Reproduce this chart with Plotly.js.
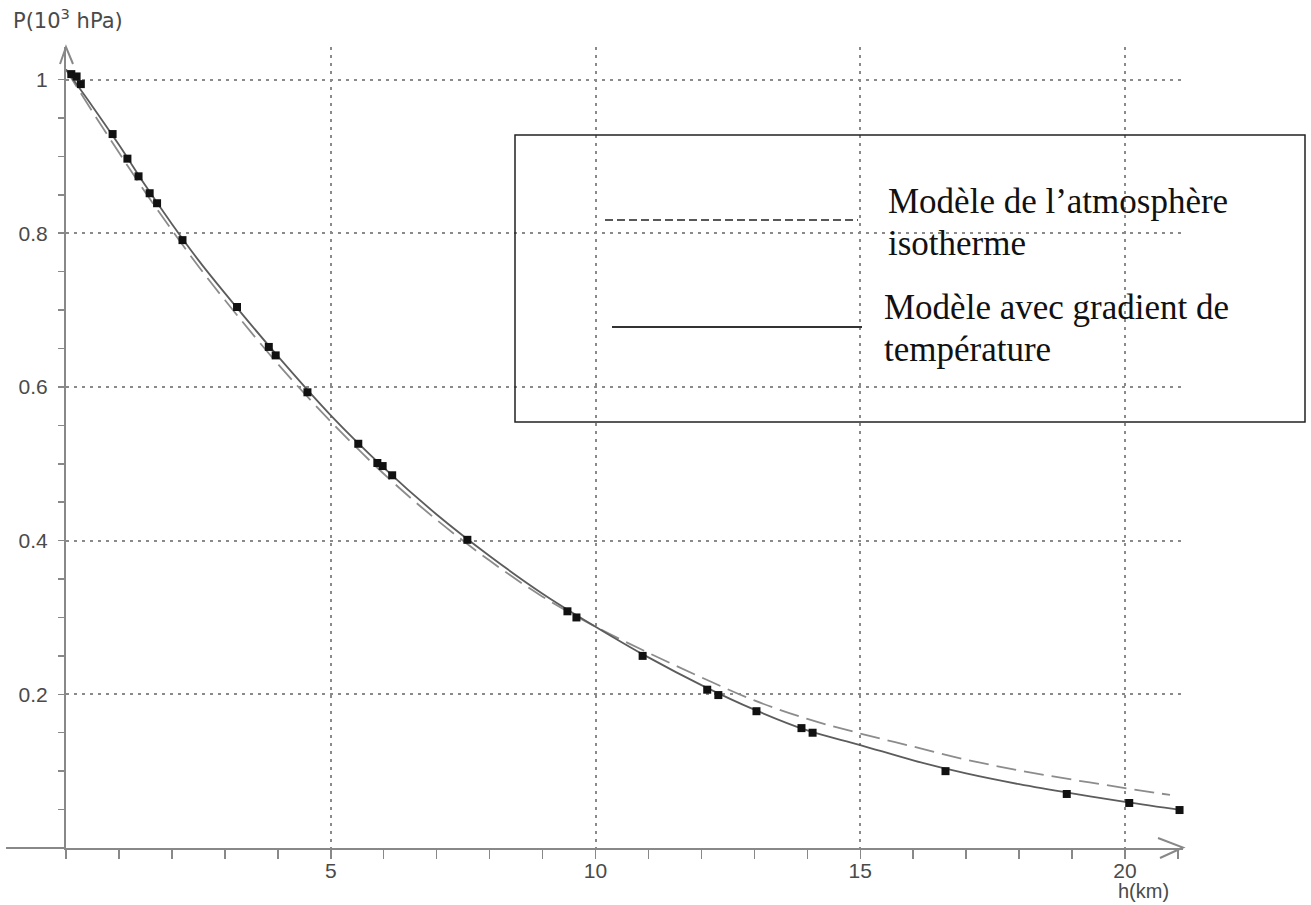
<!DOCTYPE html>
<html>
<head>
<meta charset="utf-8">
<script src="https://cdn.plot.ly/plotly-3.0.1.min.js"></script>
<style>
  html, body { margin: 0; padding: 0; background: #fff; }
  #chart { width: 1311px; height: 905px; }
</style>
</head>
<body>
<div id="chart"></div>
<script>
// ---- Data ----
// observed pressures (black squares)
const hObs = [0.1, 0.2, 0.28, 0.88, 1.16, 1.37, 1.58, 1.72, 2.2, 3.23, 3.83, 3.96, 4.56, 5.52, 5.88, 5.98, 6.16, 7.58, 9.47, 9.64, 10.89, 12.11, 12.32, 13.04, 13.89, 14.1, 16.61, 18.9, 20.08, 21.03];
const pObs = [1.007, 1.004, 0.994, 0.929, 0.897, 0.874, 0.852, 0.839, 0.791, 0.704, 0.652, 0.641, 0.593, 0.526, 0.501, 0.497, 0.485, 0.401, 0.308, 0.300, 0.250, 0.206, 0.199, 0.178, 0.156, 0.150, 0.100, 0.0703, 0.0586, 0.0494];

// solid curve: model with temperature gradient
const hGrad = [0, 0.5, 1, 1.5, 2, 2.5, 3, 4, 5, 6, 7, 8, 9, 10, 11, 12, 13, 14, 15, 16, 17, 18, 19, 20, 21.1];
const pGrad = [1.013, 0.965, 0.915, 0.862, 0.812, 0.765, 0.722, 0.640, 0.563, 0.495, 0.434, 0.380, 0.331, 0.288, 0.248, 0.212, 0.180, 0.153, 0.134, 0.114, 0.097, 0.083, 0.071, 0.060, 0.049];

// dashed curve: isothermal atmosphere model
const hIso = [0, 0.5, 1, 1.5, 2, 2.5, 3, 4, 5, 6, 7, 8, 9, 10, 11, 12, 13, 14, 15, 16, 17, 18, 19, 20, 20.85];
const pIso = [1.013, 0.958, 0.905, 0.853, 0.804, 0.757, 0.713, 0.630, 0.555, 0.487, 0.427, 0.374, 0.327, 0.288, 0.254, 0.222, 0.192, 0.168, 0.149, 0.132, 0.115, 0.101, 0.089, 0.078, 0.069];

// ticks
const xTickVals = [5, 10, 15, 20];
const xTickText = ['5', '10', '15', '20'];
const yTickVals = [0.2, 0.4, 0.6, 0.8, 1];
const yTickText = ['0.2', '0.4', '0.6', '0.8', '1'];

const legendIso = ['Modèle de l\u2019atmosphère', 'isotherme'];
const legendGrad = ['Modèle avec gradient de', 'température'];

// ---- Layout geometry (pixels) ----
const W = 1311, H = 905;
const L = 66, R = 128, T = 47, B = 57;
const plotW = W - L - R, plotH = H - T - B;
const pxPerKm = 52.95, pxPerUnit = 768.5;
const xMax = plotW / pxPerKm, yMax = plotH / pxPerUnit;
const px = v => (v - L) / plotW;            // page x -> paper
const py = v => (H - B - v) / plotH;        // page y -> paper

const axisCol = '#888';
const txtCol = '#4a4a4a';
const tickFont = { family: 'Liberation Sans, Arial, sans-serif', size: 21, color: txtCol };

const traces = [
  {
    x: hIso, y: pIso, mode: 'lines', type: 'scatter', line: { color: '#8c8c8c', width: 1.8, dash: '20px,8px', shape: 'spline' },
    hoverinfo: 'skip', showlegend: false
  },
  {
    x: hGrad, y: pGrad, mode: 'lines', type: 'scatter', line: { color: '#5c5c5c', width: 1.8, shape: 'spline' },
    hoverinfo: 'skip', showlegend: false
  },
  {
    x: hObs, y: pObs, mode: 'markers', type: 'scatter', cliponaxis: false,
    marker: { symbol: 'square', size: 8, color: '#111' }, showlegend: false
  }
];

const shapes = [
  // x axis extension to the left of the y axis
  { type: 'line', xref: 'paper', yref: 'paper', x0: px(6), x1: 0, y0: 0, y1: 0, line: { color: axisCol, width: 2 } },
  // x axis arrow head
  { type: 'path', xref: 'paper', yref: 'paper', path: `M ${px(1158)} ${py(838)} L ${px(1183)} ${py(847.5)} L ${px(1160)} ${py(858)}`, line: { color: axisCol, width: 2 } },
  // y axis arrow head
  { type: 'path', xref: 'paper', yref: 'paper', path: `M ${px(60)} ${py(64)} L ${px(66)} ${py(47)} L ${px(73)} ${py(64)}`, line: { color: axisCol, width: 2 } },
  // legend box
  { type: 'rect', xref: 'paper', yref: 'paper', x0: px(515), x1: px(1305), y0: py(422), y1: py(135), line: { color: '#222', width: 1.5 }, fillcolor: 'rgba(0,0,0,0)' },
  // legend sample lines
  { type: 'line', xref: 'paper', yref: 'paper', x0: px(605), x1: px(858), y0: py(220), y1: py(220), line: { color: '#222', width: 1.5, dash: '8px,4px' } },
  { type: 'line', xref: 'paper', yref: 'paper', x0: px(612), x1: px(862), y0: py(327), y1: py(327), line: { color: '#333', width: 2 } }
];

const serif = { family: 'Liberation Serif, Times New Roman, serif', size: 35, color: '#111' };
const annotations = [
  { xref: 'paper', yref: 'paper', x: px(11), y: py(19), xanchor: 'left', yanchor: 'middle', showarrow: false,
    text: 'P(10<sup>3</sup> hPa)', font: { family: 'DejaVu Sans, sans-serif', size: 21, color: txtCol } },
  { xref: 'paper', yref: 'paper', x: px(1143), y: py(891), xanchor: 'center', yanchor: 'middle', showarrow: false,
    text: 'h(km)', font: { family: 'Liberation Sans, Arial, sans-serif', size: 20, color: txtCol } },
  { xref: 'paper', yref: 'paper', x: px(886), y: py(201), xanchor: 'left', yanchor: 'middle', showarrow: false, text: legendIso[0], font: serif },
  { xref: 'paper', yref: 'paper', x: px(886), y: py(243), xanchor: 'left', yanchor: 'middle', showarrow: false, text: legendIso[1], font: serif },
  { xref: 'paper', yref: 'paper', x: px(882), y: py(307), xanchor: 'left', yanchor: 'middle', showarrow: false, text: legendGrad[0], font: serif },
  { xref: 'paper', yref: 'paper', x: px(882), y: py(349), xanchor: 'left', yanchor: 'middle', showarrow: false, text: legendGrad[1], font: serif }
];

const layout = {
  width: W, height: H,
  margin: { l: L, r: R, t: T, b: B, pad: 0 },
  paper_bgcolor: '#fff', plot_bgcolor: '#fff',
  showlegend: false,
  xaxis: {
    range: [0, xMax], tickmode: 'array', tickvals: xTickVals, ticktext: xTickText,
    ticks: '', tickfont: tickFont, ticklabelstandoff: 3,
    showline: true, linecolor: axisCol, linewidth: 2,
    showgrid: true, gridcolor: '#8a8a8a', gridwidth: 2, griddash: '3px,5px',
    zeroline: false,
    minor: { tickmode: 'linear', tick0: 0, dtick: 1, ticks: 'outside', ticklen: 9, tickwidth: 1.5, tickcolor: axisCol, showgrid: false }
  },
  yaxis: {
    range: [0, yMax], tickmode: 'array', tickvals: yTickVals, ticktext: yTickText,
    ticks: '', tickfont: tickFont, ticklabelstandoff: 12,
    showline: true, linecolor: axisCol, linewidth: 2,
    showgrid: true, gridcolor: '#8a8a8a', gridwidth: 2, griddash: '3px,5px',
    zeroline: false,
    minor: { tickmode: 'linear', tick0: 0, dtick: 0.05, ticks: 'outside', ticklen: 6, tickwidth: 1.5, tickcolor: axisCol, showgrid: false }
  },
  shapes: shapes,
  annotations: annotations
};

Plotly.newPlot('chart', traces, layout, { staticPlot: true, displayModeBar: false });
</script>
</body>
</html>
